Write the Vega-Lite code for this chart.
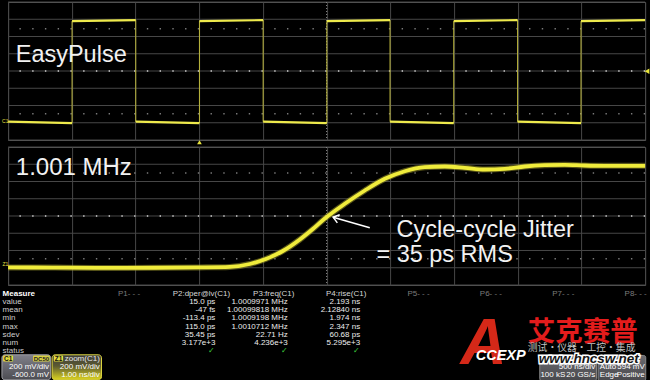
{
  "$schema": "https://vega.github.io/schema/vega-lite/v6.json",
  "background": "#000000",
  "padding": {"left": -4.9, "top": 1, "right": 0, "bottom": 0},
  "bounds": "flush",
  "spacing": 7,
  "config": {
    "view": {"stroke": "#5c5c5c", "strokeWidth": 1},
    "axis": {"grid": true, "labels": false, "ticks": false, "domain": false, "gridColor": "#474747", "gridWidth": 1, "gridOpacity": 1, "tickSize": 0, "labelPadding": 0, "titlePadding": 0}
  },
  "datasets": {
    "volt_grid": [
      {"v": -0.2}, {"v": 0}, {"v": 0.2}, {"v": 0.4}, {"v": 0.6}, {"v": 0.8}, {"v": 1.0}, {"v": 1.2}, {"v": 1.4}
    ],
    "ch1_levels": [
      {"t0": 0, "t1": 502, "v0": 0.012, "v1": -0.004},
      {"t0": 502, "t1": 1002, "v0": 1.178, "v1": 1.19},
      {"t0": 1002, "t1": 1502, "v0": 0.012, "v1": -0.004},
      {"t0": 1502, "t1": 2002, "v0": 1.178, "v1": 1.19},
      {"t0": 2002, "t1": 2502, "v0": 0.012, "v1": -0.004},
      {"t0": 2502, "t1": 2998, "v0": 1.178, "v1": 1.19},
      {"t0": 2998, "t1": 3498, "v0": 0.012, "v1": -0.004},
      {"t0": 3498, "t1": 3999, "v0": 1.178, "v1": 1.19},
      {"t0": 3999, "t1": 4497, "v0": 0.012, "v1": -0.004},
      {"t0": 4497, "t1": 5000, "v0": 1.178, "v1": 1.19}
    ],
    "ch1_edges": [
      {"t": 502, "lo": -0.004, "hi": 1.178},
      {"t": 1002, "lo": 0.012, "hi": 1.19},
      {"t": 1502, "lo": -0.004, "hi": 1.178},
      {"t": 2002, "lo": 0.012, "hi": 1.19},
      {"t": 2502, "lo": -0.004, "hi": 1.178},
      {"t": 2998, "lo": 0.012, "hi": 1.19},
      {"t": 3498, "lo": -0.004, "hi": 1.178},
      {"t": 3999, "lo": 0.012, "hi": 1.19},
      {"t": 4497, "lo": -0.004, "hi": 1.178}
    ],
    "zoom_trace": [
      {"t": 0, "v": 0.004}, {"t": 0.7, "v": 0.002}, {"t": 1.5, "v": -0.002}, {"t": 2.3, "v": 0.0},
      {"t": 3.0, "v": 0.004}, {"t": 3.48, "v": 0.01}, {"t": 3.794, "v": 0.0435}, {"t": 4.046, "v": 0.1015},
      {"t": 4.313, "v": 0.194}, {"t": 4.58, "v": 0.3275}, {"t": 4.784, "v": 0.449}, {"t": 4.972, "v": 0.571},
      {"t": 5.286, "v": 0.7415}, {"t": 5.6, "v": 0.8957}, {"t": 5.914, "v": 1.0313}, {"t": 6.228, "v": 1.1194},
      {"t": 6.542, "v": 1.1658}, {"t": 6.856, "v": 1.1739}, {"t": 7.17, "v": 1.1588}, {"t": 7.484, "v": 1.1391},
      {"t": 7.798, "v": 1.1473}, {"t": 8.111, "v": 1.1739}, {"t": 8.425, "v": 1.189}, {"t": 8.739, "v": 1.1936},
      {"t": 9.053, "v": 1.1855}, {"t": 9.367, "v": 1.182}, {"t": 10, "v": 1.182}
    ],
    "meas_params": [
      {"param": "P1- - -", "col": 1},
      {"param": "P2:dper@lv(C1)", "col": 2},
      {"param": "P3:freq(C1)", "col": 3},
      {"param": "P4:rise(C1)", "col": 4},
      {"param": "P5- - -", "col": 5},
      {"param": "P6- - -", "col": 6},
      {"param": "P7- - -", "col": 7},
      {"param": "P8- - -", "col": 8}
    ],
    "meas_stats": [
      {"stat": "value", "row": 1, "P2": "15.0 ps", "P3": "1.0009971 MHz", "P4": "2.193 ns"},
      {"stat": "mean", "row": 2, "P2": "-47 fs", "P3": "1.00099818 MHz", "P4": "2.12840 ns"},
      {"stat": "min", "row": 3, "P2": "-113.4 ps", "P3": "1.0009198 MHz", "P4": "1.974 ns"},
      {"stat": "max", "row": 4, "P2": "115.0 ps", "P3": "1.0010712 MHz", "P4": "2.347 ns"},
      {"stat": "sdev", "row": 5, "P2": "35.45 ps", "P3": "22.71 Hz", "P4": "60.68 ps"},
      {"stat": "num", "row": 6, "P2": "3.177e+3", "P3": "4.236e+3", "P4": "5.295e+3"},
      {"stat": "status", "row": 7, "P2": "✓", "P3": "✓", "P4": "✓"}
    ]
  },
  "vconcat": [
    {
      "width": 637,
      "height": 138,
      "data": {"values": [{}]},
      "layer": [
        {
          "data": {"name": "volt_grid"},
          "mark": {"type": "rule", "color": "#474747", "strokeWidth": 1},
          "encoding": {
            "y": {"field": "v", "type": "quantitative", "title": null, "scale": {"domain": [-0.2, 1.4], "nice": false, "zero": false}, "axis": null}
          }
        },
        {
          "mark": {"type": "rule", "color": "#a6a6a6", "strokeWidth": 2, "strokeDash": [1.4, 11.34]},
          "encoding": {"y": {"datum": 0.6, "type": "quantitative", "title": null}}
        },
        {
          "mark": {"type": "rule", "color": "#8c8c8c", "strokeWidth": 1, "strokeDash": [1, 2]},
          "encoding": {
            "x": {"datum": 2500, "type": "quantitative", "title": null, "scale": {"domain": [0, 5000], "nice": false, "zero": false}, "axis": {"values": [0, 500, 1000, 1500, 2000, 2500, 3000, 3500, 4000, 4500, 5000], "title": null}}
          }
        },
        {
          "mark": {"type": "rule", "color": "#7a7a7a", "strokeWidth": 1.5, "strokeDash": [1.4, 11.34]},
          "encoding": {"y": {"datum": 1.09, "type": "quantitative", "title": null}}
        },
        {
          "mark": {"type": "rule", "color": "#7a7a7a", "strokeWidth": 1.5, "strokeDash": [1.4, 11.34]},
          "encoding": {"y": {"datum": 0.105, "type": "quantitative", "title": null}}
        },
        {
          "data": {"name": "ch1_edges"},
          "mark": {"type": "rule", "color": "#bdb83c", "strokeWidth": 1},
          "encoding": {
            "x": {"field": "t", "type": "quantitative", "title": null},
            "y": {"field": "lo", "type": "quantitative", "title": null},
            "y2": {"field": "hi", "title": null}
          }
        },
        {
          "data": {"name": "ch1_levels"},
          "mark": {"type": "rule", "color": "#eeea4c", "strokeWidth": 2.2, "strokeCap": "butt"},
          "encoding": {
            "x": {"field": "t0", "type": "quantitative", "title": null},
            "x2": {"field": "t1", "title": null},
            "y": {"field": "v0", "type": "quantitative", "title": null},
            "y2": {"field": "v1", "title": null}
          }
        },
        {
          "mark": {"type": "text", "text": "EasyPulse", "font": "Liberation Sans", "fontSize": 23.5, "color": "#f2f2f2", "align": "left", "baseline": "alphabetic"},
          "encoding": {"x": {"datum": 60, "type": "quantitative", "title": null}, "y": {"datum": 0.71, "type": "quantitative", "title": null}}
        },
        {
          "mark": {"type": "text", "text": "C1", "font": "Liberation Sans", "fontSize": 5, "color": "#e8e040", "align": "center", "baseline": "middle"},
          "encoding": {"x": {"datum": -22, "type": "quantitative", "title": null}, "y": {"datum": 0.026, "type": "quantitative", "title": null}}
        },
        {
          "mark": {"type": "point", "shape": "triangle-up", "filled": true, "color": "#e8e43c", "size": 22, "opacity": 1},
          "encoding": {"x": {"datum": 1502, "type": "quantitative", "title": null}, "y": {"datum": -0.226, "type": "quantitative", "title": null}}
        },
        {
          "mark": {"type": "point", "shape": "triangle-left", "filled": true, "color": "#e8e43c", "size": 30, "opacity": 1},
          "encoding": {"x": {"datum": 5015, "type": "quantitative", "title": null}, "y": {"datum": 0.598, "type": "quantitative", "title": null}}
        }
      ]
    },
    {
      "width": 637,
      "height": 138,
      "data": {"values": [{}]},
      "layer": [
        {
          "data": {"name": "volt_grid"},
          "mark": {"type": "rule", "color": "#474747", "strokeWidth": 1},
          "encoding": {
            "y": {"field": "v", "type": "quantitative", "title": null, "scale": {"domain": [-0.2, 1.4], "nice": false, "zero": false}, "axis": null}
          }
        },
        {
          "mark": {"type": "rule", "color": "#a6a6a6", "strokeWidth": 2, "strokeDash": [1.4, 11.34]},
          "encoding": {"y": {"datum": 0.6, "type": "quantitative", "title": null}}
        },
        {
          "mark": {"type": "rule", "color": "#8c8c8c", "strokeWidth": 1, "strokeDash": [1, 2]},
          "encoding": {
            "x": {"datum": 5, "type": "quantitative", "title": null, "scale": {"domain": [0, 10], "nice": false, "zero": false}, "axis": {"values": [0, 1, 2, 3, 4, 5, 6, 7, 8, 9, 10], "title": null}}
          }
        },
        {
          "mark": {"type": "rule", "color": "#7a7a7a", "strokeWidth": 1.5, "strokeDash": [1.4, 11.34]},
          "encoding": {"y": {"datum": 1.1, "type": "quantitative", "title": null}}
        },
        {
          "mark": {"type": "rule", "color": "#7a7a7a", "strokeWidth": 1.5, "strokeDash": [1.4, 11.34]},
          "encoding": {"y": {"datum": 0.105, "type": "quantitative", "title": null}}
        },
        {
          "data": {"name": "zoom_trace"},
          "mark": {"type": "line", "color": "#9a962a", "strokeWidth": 6, "opacity": 0.55, "interpolate": "monotone"},
          "encoding": {
            "x": {"field": "t", "type": "quantitative", "title": null},
            "y": {"field": "v", "type": "quantitative", "title": null}
          }
        },
        {
          "data": {"name": "zoom_trace"},
          "mark": {"type": "line", "color": "#f0ec3c", "strokeWidth": 3.8, "interpolate": "monotone"},
          "encoding": {
            "x": {"field": "t", "type": "quantitative", "title": null},
            "y": {"field": "v", "type": "quantitative", "title": null}
          }
        },
        {
          "mark": {"type": "text", "text": "1.001 MHz", "font": "Liberation Sans", "fontSize": 24, "color": "#f2f2f2", "align": "left", "baseline": "alphabetic"},
          "encoding": {"x": {"datum": 0.121, "type": "quantitative", "title": null}, "y": {"datum": 1.078, "type": "quantitative", "title": null}}
        },
        {
          "mark": {"type": "text", "text": "Cycle-cycle Jitter", "font": "Liberation Sans", "fontSize": 23.5, "color": "#f2f2f2", "align": "left", "baseline": "alphabetic"},
          "encoding": {"x": {"datum": 6.097, "type": "quantitative", "title": null}, "y": {"datum": 0.362, "type": "quantitative", "title": null}}
        },
        {
          "mark": {"type": "text", "text": "= 35 ps RMS", "font": "Liberation Sans", "fontSize": 23.5, "color": "#f2f2f2", "align": "left", "baseline": "alphabetic"},
          "encoding": {"x": {"datum": 5.782, "type": "quantitative", "title": null}, "y": {"datum": 0.064, "type": "quantitative", "title": null}}
        },
        {
          "mark": {"type": "rule", "color": "#ffffff", "strokeWidth": 1.5},
          "encoding": {"x": {"datum": 5.678, "type": "quantitative", "title": null}, "y": {"datum": 0.463, "type": "quantitative", "title": null}, "x2": {"datum": 5.102, "title": null}, "y2": {"datum": 0.586, "title": null}}
        },
        {
          "mark": {"type": "point", "shape": "M-0.6,0.8L0,0L0.6,0.8", "filled": false, "color": "#ffffff", "strokeWidth": 1.5, "size": 200, "angle": 286, "opacity": 1},
          "encoding": {"x": {"datum": 5.102, "type": "quantitative", "title": null}, "y": {"datum": 0.586, "type": "quantitative", "title": null}}
        },
        {
          "mark": {"type": "text", "text": "Z1", "font": "Liberation Sans", "fontSize": 5, "color": "#e8e040", "align": "center", "baseline": "middle"},
          "encoding": {"x": {"datum": -0.044, "type": "quantitative", "title": null}, "y": {"datum": 0.038, "type": "quantitative", "title": null}}
        }
      ]
    },
    {
      "width": 637,
      "height": 89,
      "view": {"stroke": null},
      "data": {"values": [{}]},
      "layer": [
        {
          "data": {"name": "meas_stats"},
          "mark": {"type": "text", "align": "left", "baseline": "middle", "dx": -5.5, "font": "Liberation Sans Narrow, Liberation Sans", "fontSize": 8, "color": "#cfcfcf"},
          "encoding": {
            "x": {"datum": -0.67, "type": "quantitative", "title": null, "scale": {"domain": [-0.67, 8.13], "nice": false, "zero": false}, "axis": null},
            "y": {"field": "row", "type": "quantitative", "title": null, "scale": {"domain": [-0.22, 10.634], "nice": false, "zero": false, "reverse": true}, "axis": null},
            "text": {"field": "stat"}
          }
        },
        {
          "mark": {"type": "text", "text": "Measure", "align": "left", "baseline": "middle", "dx": -5.5, "font": "Liberation Sans Narrow, Liberation Sans", "fontSize": 8, "fontWeight": "bold", "color": "#ffffff"},
          "encoding": {"x": {"datum": -0.67, "type": "quantitative"}, "y": {"datum": 0, "type": "quantitative"}}
        },
        {
          "data": {"name": "meas_params"},
          "mark": {"type": "text", "align": "center", "baseline": "middle", "font": "Liberation Sans Narrow, Liberation Sans", "fontSize": 8},
          "encoding": {
            "x": {"field": "col", "type": "quantitative"},
            "y": {"datum": 0, "type": "quantitative"},
            "text": {"field": "param"},
            "color": {"condition": {"test": "indexof(datum.param, '- - -') >= 0", "value": "#7a7a7a"}, "value": "#d6d6d6"}
          }
        },
        {
          "data": {"name": "meas_stats"},
          "mark": {"type": "text", "align": "right", "baseline": "middle", "dx": 14, "font": "Liberation Sans Narrow, Liberation Sans", "fontSize": 8},
          "encoding": {
            "x": {"datum": 2, "type": "quantitative"},
            "y": {"field": "row", "type": "quantitative"},
            "text": {"field": "P2"},
            "color": {"condition": {"test": "datum.stat === 'status'", "value": "#3ccf3c"}, "value": "#ececec"}
          }
        },
        {
          "data": {"name": "meas_stats"},
          "mark": {"type": "text", "align": "right", "baseline": "middle", "dx": 14, "font": "Liberation Sans Narrow, Liberation Sans", "fontSize": 8},
          "encoding": {
            "x": {"datum": 3, "type": "quantitative"},
            "y": {"field": "row", "type": "quantitative"},
            "text": {"field": "P3"},
            "color": {"condition": {"test": "datum.stat === 'status'", "value": "#3ccf3c"}, "value": "#ececec"}
          }
        },
        {
          "data": {"name": "meas_stats"},
          "mark": {"type": "text", "align": "right", "baseline": "middle", "dx": 14, "font": "Liberation Sans Narrow, Liberation Sans", "fontSize": 8},
          "encoding": {
            "x": {"datum": 4, "type": "quantitative"},
            "y": {"field": "row", "type": "quantitative"},
            "text": {"field": "P4"},
            "color": {"condition": {"test": "datum.stat === 'status'", "value": "#3ccf3c"}, "value": "#ececec"}
          }
        },
        {
          "mark": {"type": "rect", "cornerRadius": 3, "stroke": "#a0a0a6", "strokeWidth": 1, "fill": {"gradient": "linear", "x1": 0, "y1": 0, "x2": 0, "y2": 1, "stops": [{"offset": 0, "color": "#80808a"}, {"offset": 1, "color": "#4c4c52"}]}},
          "encoding": {"x": {"datum": -0.755, "type": "quantitative"}, "x2": {"datum": -0.082}, "y": {"datum": 7.44, "type": "quantitative"}, "y2": {"datum": 10.49}}
        },
        {
          "mark": {"type": "rect", "cornerRadius": 3, "stroke": "#e0d840", "strokeWidth": 1, "fill": {"gradient": "linear", "x1": 0, "y1": 0, "x2": 0, "y2": 1, "stops": [{"offset": 0, "color": "#3c3c3c"}, {"offset": 0.45, "color": "#5c5a30"}, {"offset": 1, "color": "#dcd420"}]}},
          "encoding": {"x": {"datum": -0.062, "type": "quantitative"}, "x2": {"datum": 0.62}, "y": {"datum": 7.44, "type": "quantitative"}, "y2": {"datum": 10.49}}
        },
        {
          "mark": {"type": "rect", "cornerRadius": 1, "fill": "#e4dc3c"},
          "encoding": {"x": {"datum": -0.739, "type": "quantitative"}, "x2": {"datum": -0.601}, "y": {"datum": 7.52, "type": "quantitative"}, "y2": {"datum": 8.26}}
        },
        {
          "mark": {"type": "rect", "cornerRadius": 1, "fill": "#d8d040"},
          "encoding": {"x": {"datum": -0.325, "type": "quantitative"}, "x2": {"datum": -0.094}, "y": {"datum": 7.52, "type": "quantitative"}, "y2": {"datum": 8.26}}
        },
        {
          "mark": {"type": "rect", "cornerRadius": 1, "fill": "#e4dc3c"},
          "encoding": {"x": {"datum": -0.039, "type": "quantitative"}, "x2": {"datum": 0.09}, "y": {"datum": 7.52, "type": "quantitative"}, "y2": {"datum": 8.26}}
        },
        {
          "mark": {"type": "text", "text": "C1", "align": "center", "baseline": "middle", "font": "Liberation Sans", "fontSize": 6.5, "fontWeight": "bold", "color": "#111111"},
          "encoding": {"x": {"datum": -0.67, "type": "quantitative"}, "y": {"datum": 7.9, "type": "quantitative"}}
        },
        {
          "mark": {"type": "text", "text": "DC50", "align": "center", "baseline": "middle", "font": "Liberation Sans", "fontSize": 6, "fontWeight": "bold", "color": "#222222"},
          "encoding": {"x": {"datum": -0.21, "type": "quantitative"}, "y": {"datum": 7.9, "type": "quantitative"}}
        },
        {
          "mark": {"type": "text", "text": "Z1", "align": "center", "baseline": "middle", "font": "Liberation Sans", "fontSize": 6.5, "fontWeight": "bold", "color": "#111111"},
          "encoding": {"x": {"datum": 0.026, "type": "quantitative"}, "y": {"datum": 7.9, "type": "quantitative"}}
        },
        {
          "mark": {"type": "text", "text": "200 mV/div", "align": "right", "baseline": "middle", "font": "Liberation Sans Narrow, Liberation Sans", "fontSize": 8, "color": "#ffffff"},
          "encoding": {"x": {"datum": -0.104, "type": "quantitative"}, "y": {"datum": 8.95, "type": "quantitative"}}
        },
        {
          "mark": {"type": "text", "text": "-600.0 mV", "align": "right", "baseline": "middle", "font": "Liberation Sans Narrow, Liberation Sans", "fontSize": 8, "color": "#ffffff"},
          "encoding": {"x": {"datum": -0.104, "type": "quantitative"}, "y": {"datum": 9.88, "type": "quantitative"}}
        },
        {
          "mark": {"type": "text", "text": "zoom(C1)", "align": "right", "baseline": "middle", "font": "Liberation Sans Narrow, Liberation Sans", "fontSize": 8, "color": "#e8e8e8"},
          "encoding": {"x": {"datum": 0.597, "type": "quantitative"}, "y": {"datum": 7.93, "type": "quantitative"}}
        },
        {
          "mark": {"type": "text", "text": "200 mV/div", "align": "right", "baseline": "middle", "font": "Liberation Sans Narrow, Liberation Sans", "fontSize": 8, "color": "#ffffff"},
          "encoding": {"x": {"datum": 0.597, "type": "quantitative"}, "y": {"datum": 8.95, "type": "quantitative"}}
        },
        {
          "mark": {"type": "text", "text": "1.00 ns/div", "align": "right", "baseline": "middle", "font": "Liberation Sans Narrow, Liberation Sans", "fontSize": 8, "color": "#ffffff"},
          "encoding": {"x": {"datum": 0.597, "type": "quantitative"}, "y": {"datum": 9.88, "type": "quantitative"}}
        },
        {
          "mark": {"type": "rect", "cornerRadius": 2, "stroke": "#8a8a8a", "strokeWidth": 1, "fill": {"gradient": "linear", "x1": 0, "y1": 0, "x2": 0, "y2": 1, "stops": [{"offset": 0, "color": "#6a6a70"}, {"offset": 1, "color": "#48484c"}]}},
          "encoding": {"x": {"datum": 6.675, "type": "quantitative"}, "x2": {"datum": 7.458}, "y": {"datum": 7.52, "type": "quantitative"}, "y2": {"datum": 10.6}}
        },
        {
          "mark": {"type": "rect", "cornerRadius": 2, "stroke": "#8a8a8a", "strokeWidth": 1, "fill": {"gradient": "linear", "x1": 0, "y1": 0, "x2": 0, "y2": 1, "stops": [{"offset": 0, "color": "#6a6a70"}, {"offset": 1, "color": "#48484c"}]}},
          "encoding": {"x": {"datum": 7.48, "type": "quantitative"}, "x2": {"datum": 8.139}, "y": {"datum": 7.52, "type": "quantitative"}, "y2": {"datum": 10.6}}
        },
        {
          "mark": {"type": "text", "text": "500 ns/div", "align": "right", "baseline": "middle", "font": "Liberation Sans Narrow, Liberation Sans", "fontSize": 8, "color": "#ffffff"},
          "encoding": {"x": {"datum": 7.44, "type": "quantitative"}, "y": {"datum": 8.95, "type": "quantitative"}}
        },
        {
          "mark": {"type": "text", "text": "100 kS", "align": "left", "baseline": "middle", "font": "Liberation Sans Narrow, Liberation Sans", "fontSize": 8, "color": "#ffffff"},
          "encoding": {"x": {"datum": 6.684, "type": "quantitative"}, "y": {"datum": 9.87, "type": "quantitative"}}
        },
        {
          "mark": {"type": "text", "text": "20 GS/s", "align": "right", "baseline": "middle", "font": "Liberation Sans Narrow, Liberation Sans", "fontSize": 8, "color": "#ffffff"},
          "encoding": {"x": {"datum": 7.44, "type": "quantitative"}, "y": {"datum": 9.87, "type": "quantitative"}}
        },
        {
          "mark": {"type": "text", "text": "Auto", "align": "left", "baseline": "middle", "font": "Liberation Sans Narrow, Liberation Sans", "fontSize": 8, "color": "#ffffff"},
          "encoding": {"x": {"datum": 7.505, "type": "quantitative"}, "y": {"datum": 8.95, "type": "quantitative"}}
        },
        {
          "mark": {"type": "text", "text": "594 mV", "align": "right", "baseline": "middle", "font": "Liberation Sans Narrow, Liberation Sans", "fontSize": 8, "color": "#ffffff"},
          "encoding": {"x": {"datum": 8.126, "type": "quantitative"}, "y": {"datum": 8.95, "type": "quantitative"}}
        },
        {
          "mark": {"type": "text", "text": "Edge", "align": "left", "baseline": "middle", "font": "Liberation Sans Narrow, Liberation Sans", "fontSize": 8, "color": "#ffffff"},
          "encoding": {"x": {"datum": 7.505, "type": "quantitative"}, "y": {"datum": 9.87, "type": "quantitative"}}
        },
        {
          "mark": {"type": "text", "text": "Positive", "align": "right", "baseline": "middle", "font": "Liberation Sans Narrow, Liberation Sans", "fontSize": 8, "color": "#ffffff"},
          "encoding": {"x": {"datum": 8.126, "type": "quantitative"}, "y": {"datum": 9.87, "type": "quantitative"}}
        },
        {
          "mark": {"type": "text", "text": "A", "align": "center", "baseline": "alphabetic", "font": "Liberation Sans", "fontSize": 64, "fontWeight": "bold", "fontStyle": "italic", "color": "#d42818"},
          "encoding": {"x": {"datum": 5.9, "type": "quantitative"}, "y": {"datum": 8.5, "type": "quantitative"}}
        },
        {
          "mark": {"type": "text", "text": "CCEXP", "align": "left", "baseline": "alphabetic", "font": "Liberation Sans", "fontSize": 14.5, "fontWeight": "bold", "fontStyle": "italic", "color": "#ffffff"},
          "encoding": {"x": {"datum": 5.79, "type": "quantitative"}, "y": {"datum": 8.13, "type": "quantitative"}}
        },
        {
          "mark": {"type": "text", "text": "艾克赛普", "align": "left", "baseline": "middle", "font": "Noto Sans CJK SC", "fontSize": 27.5, "fontWeight": "bold", "color": "#e41c1c"},
          "encoding": {"x": {"datum": 6.51, "type": "quantitative"}, "y": {"datum": 4.84, "type": "quantitative"}}
        },
        {
          "mark": {"type": "text", "text": "测试・仪器・工控・集成", "align": "left", "baseline": "middle", "font": "Noto Sans CJK SC", "fontSize": 9.8, "color": "#c0c0c0"},
          "encoding": {"x": {"datum": 6.51, "type": "quantitative"}, "y": {"datum": 6.62, "type": "quantitative"}}
        },
        {
          "mark": {"type": "text", "text": "www.hncsw.net", "align": "left", "baseline": "middle", "font": "Liberation Sans", "fontSize": 13.5, "fontWeight": "bold", "fontStyle": "italic", "color": "#ffffff", "stroke": "#ffffff", "strokeWidth": 3},
          "encoding": {"x": {"datum": 6.66, "type": "quantitative"}, "y": {"datum": 8.0, "type": "quantitative"}}
        },
        {
          "mark": {"type": "text", "text": "www.hncsw.net", "align": "left", "baseline": "middle", "font": "Liberation Sans", "fontSize": 13.5, "fontWeight": "bold", "fontStyle": "italic", "color": "#161616"},
          "encoding": {"x": {"datum": 6.66, "type": "quantitative"}, "y": {"datum": 8.0, "type": "quantitative"}}
        }
      ]
    }
  ]
}
